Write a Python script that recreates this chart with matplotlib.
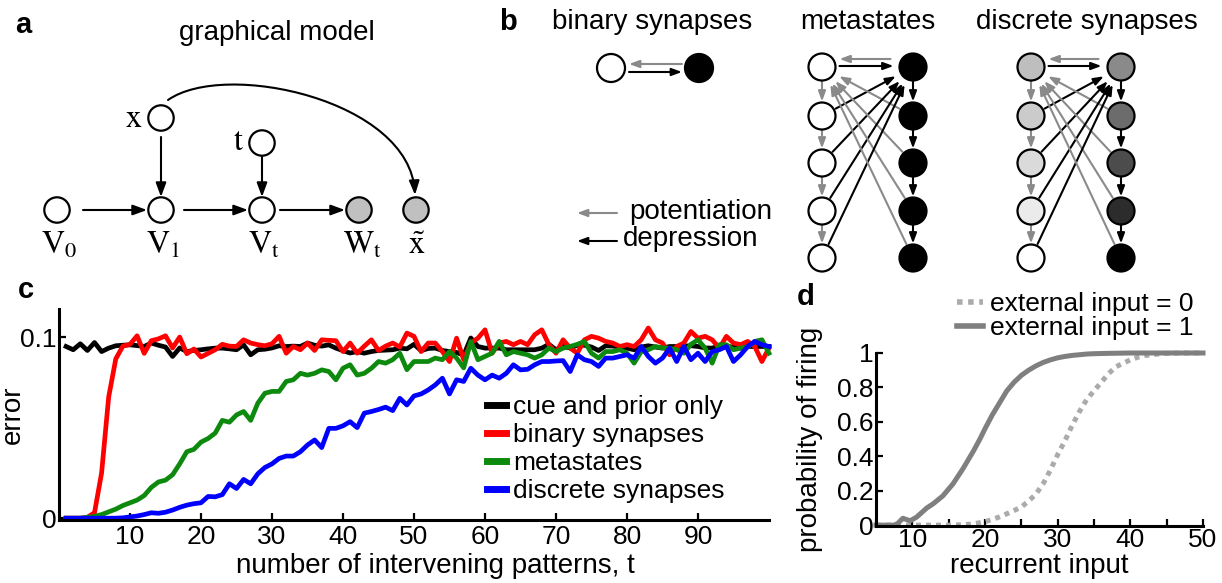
import math
import matplotlib
matplotlib.use('Agg')
import matplotlib.pyplot as plt
from matplotlib.patches import Circle, FancyArrowPatch
from matplotlib.path import Path

plt.rcParams['font.family'] = ['Liberation Sans', 'DejaVu Sans']
plt.rcParams['mathtext.fontset'] = 'stix'

# ---- panel c: error vs number of intervening patterns
t_patterns = list(range(1, 101))
cue_prior = [0.0948, 0.0930, 0.0963, 0.0926, 0.0970, 0.0920, 0.0939, 0.0952, 0.0955, 0.0957,
             0.0953, 0.0948, 0.0967, 0.0955, 0.0945, 0.0893, 0.0940, 0.0920, 0.0926, 0.0930,
             0.0935, 0.0939, 0.0939, 0.0935, 0.0930, 0.0957, 0.0902, 0.0930, 0.0933, 0.0940,
             0.0952, 0.0948, 0.0950, 0.0948, 0.0967, 0.0955, 0.0950, 0.0957, 0.0939, 0.0925,
             0.0912, 0.0920, 0.0911, 0.0920, 0.0926, 0.0928, 0.0930, 0.0939, 0.0935, 0.0960,
             0.0925, 0.0937, 0.0939, 0.0926, 0.0920, 0.0915, 0.0900, 0.0995, 0.0948, 0.0939,
             0.0939, 0.0939, 0.0930, 0.0930, 0.0930, 0.0930, 0.0930, 0.0939, 0.0960, 0.0930,
             0.0950, 0.0939, 0.0955, 0.0955, 0.0945, 0.0926, 0.0952, 0.0950, 0.0945, 0.0939,
             0.0930, 0.0945, 0.0952, 0.0945, 0.0939, 0.0948, 0.0948, 0.0950, 0.0952, 0.0948,
             0.0940, 0.0939, 0.0952, 0.0948, 0.0945, 0.0939, 0.0948, 0.0948, 0.0948, 0.0948]
binary = [0.0, 0.0, 0.0, 0.0005, 0.003, 0.025, 0.067, 0.088, 0.095, 0.096,
          0.1007, 0.091, 0.098, 0.099, 0.1007, 0.094, 0.100, 0.0908, 0.0934, 0.089,
          0.091, 0.093, 0.096, 0.095, 0.0948, 0.0985, 0.0967, 0.0958, 0.0952, 0.0963,
          0.1004, 0.0911, 0.0948, 0.093, 0.0967, 0.0926, 0.0985, 0.0982, 0.098, 0.092,
          0.0967, 0.0911, 0.095, 0.0985, 0.0926, 0.095, 0.0967, 0.0945, 0.1022, 0.1004,
          0.092, 0.0967, 0.0967, 0.092, 0.0865, 0.0994, 0.0875, 0.0967, 0.0994, 0.104,
          0.0911, 0.0967, 0.0976, 0.0958, 0.0976, 0.0958, 0.1013, 0.104, 0.0958, 0.0911,
          0.0985, 0.0939, 0.0911, 0.0985, 0.1004, 0.0994, 0.0976, 0.0967, 0.0948, 0.0958,
          0.0948, 0.0985, 0.105, 0.0985, 0.0967, 0.0902, 0.0948, 0.0967, 0.1031, 0.0994,
          0.1004, 0.0985, 0.0939, 0.1004, 0.0967, 0.0958, 0.0976, 0.0948, 0.0865, 0.094]
metastates = [0.0, 0.0, 0.0, 0.0005, 0.001, 0.002, 0.0035, 0.005, 0.007, 0.0085,
              0.010, 0.0125, 0.017, 0.020, 0.021, 0.024, 0.030, 0.0367, 0.038, 0.042,
              0.044, 0.047, 0.054, 0.053, 0.057, 0.0589, 0.054, 0.0635, 0.069, 0.070,
              0.070, 0.0755, 0.0764, 0.080, 0.079, 0.080, 0.0819, 0.081, 0.0764, 0.0828,
              0.0847, 0.079, 0.080, 0.0828, 0.0865, 0.0856, 0.0875, 0.0911, 0.082, 0.0865,
              0.0865, 0.0865, 0.0884, 0.0875, 0.0920, 0.0884, 0.0830, 0.0976, 0.0875, 0.0893,
              0.0911, 0.0976, 0.0902, 0.0920, 0.0911, 0.0902, 0.0884, 0.0902, 0.0939, 0.0920,
              0.0939, 0.0948, 0.0960, 0.0976, 0.0911, 0.0884, 0.0920, 0.0920, 0.0930, 0.0911,
              0.0856, 0.0920, 0.0930, 0.0948, 0.0940, 0.0939, 0.0930, 0.0911, 0.0960, 0.0985,
              0.0939, 0.0856, 0.0958, 0.0958, 0.0930, 0.0939, 0.0945, 0.0976, 0.0985, 0.0911]
discrete = [0, 0, 0, 0, 0, 0, 0, 0, 0.0002, 0.0007,
            0.0012, 0.002, 0.003, 0.0027, 0.0033, 0.0045, 0.006, 0.0072, 0.008, 0.0085,
            0.012, 0.0118, 0.013, 0.019, 0.0164, 0.0214, 0.019, 0.0245, 0.028, 0.030,
            0.033, 0.0343, 0.0343, 0.0367, 0.0404, 0.0432, 0.039, 0.0496, 0.0496, 0.051,
            0.0533, 0.050, 0.058, 0.0589, 0.060, 0.0613, 0.0594, 0.0662, 0.0625, 0.0675,
            0.0686, 0.0708, 0.0736, 0.0773, 0.0686, 0.0764, 0.0755, 0.0828, 0.079, 0.0764,
            0.079, 0.0773, 0.080, 0.0847, 0.0819, 0.0822, 0.0847, 0.0865, 0.0865, 0.0868,
            0.087, 0.081, 0.0902, 0.0875, 0.0865, 0.0838, 0.0884, 0.0884, 0.0893, 0.0902,
            0.0884, 0.0948, 0.0893, 0.0856, 0.0884, 0.0939, 0.0865, 0.0948, 0.0875, 0.0911,
            0.0865, 0.0920, 0.0930, 0.0948, 0.0865, 0.0902, 0.0948, 0.0976, 0.0958, 0.0948]
c_labels = ['cue and prior only', 'binary synapses', 'metastates', 'discrete synapses']
c_colors = ['black', 'red', '#0d8a0d', 'blue']

# ---- panel d: probability of firing vs recurrent input
rec_x0 = [5, 10, 15, 17, 18, 19, 20, 21, 22, 23, 24, 25, 26, 27, 28, 29, 30, 31, 32,
          33, 34, 35, 36, 37, 38, 39, 40, 41, 42, 43, 44, 45, 47, 50]
ext0 = [0, 0, 0, 0.002, 0.006, 0.012, 0.02, 0.033, 0.048, 0.066, 0.085, 0.105, 0.14, 0.18,
        0.24, 0.32, 0.41, 0.49, 0.58, 0.66, 0.73, 0.78, 0.83, 0.88, 0.92, 0.94, 0.96,
        0.975, 0.985, 0.99, 0.995, 0.998, 1.0, 1.0]
rec_x1 = [5, 6, 7, 7.5, 8, 8.7, 9.7, 10.6, 12, 12.9, 14.2, 15.6, 17, 18.4, 19.3, 20, 21,
          22, 23, 24, 25, 26, 27, 28, 29, 30, 31, 32, 33, 34, 35, 37, 40, 45, 50]
ext1 = [0, 0, 0, 0, 0.01, 0.04, 0.025, 0.047, 0.10, 0.125, 0.17, 0.24, 0.33, 0.43, 0.5,
        0.56, 0.64, 0.71, 0.78, 0.83, 0.87, 0.9, 0.925, 0.945, 0.96, 0.972, 0.98, 0.986,
        0.99, 0.994, 0.996, 0.998, 1.0, 1.0, 1.0]

GRAY = '#8a8a8a'
disc_left_fill = ['#bebebe', '#cbcbcb', '#dadada', '#ebebeb', '#ffffff']
disc_right_fill = ['#8a8a8a', '#6c6c6c', '#4c4c4c', '#2c2c2c', '#000000']

fig = plt.figure(figsize=(12.22, 5.83), dpi=100)

# background axes in pixel units for the diagrams (a, b)
bg = fig.add_axes([0, 0, 1, 1])
bg.set_xlim(0, 1222)
bg.set_ylim(583, 0)
bg.axis('off')


def node(x, y, fc='white', r=13):
    bg.add_patch(Circle((x, y), r, fc=fc, ec='black', lw=1.6, zorder=3))


def arrow(p0, p1, color='black', ms=10, hl=0.6, hw=0.22, lw=1.5):
    bg.add_patch(FancyArrowPatch(p0, p1, arrowstyle=f'-|>,head_length={hl},head_width={hw}',
                                 mutation_scale=ms, color=color, lw=lw,
                                 shrinkA=0, shrinkB=0, zorder=2))


def edge_arrow(c0, c1, r, color, gap0=2, gap1=6):
    dx, dy = c1[0] - c0[0], c1[1] - c0[1]
    d = math.hypot(dx, dy)
    ux, uy = dx / d, dy / d
    p0 = (c0[0] + ux * (r + gap0), c0[1] + uy * (r + gap0))
    p1 = (c1[0] - ux * (r + gap1), c1[1] - uy * (r + gap1))
    arrow(p0, p1, color)


# panel labels
for lab, x, y in [('a', 23, 25), ('b', 508, 22), ('c', 26, 290), ('d', 806, 297)]:
    bg.text(x, y, lab, fontsize=21, fontweight='bold', ha='center', va='center')

# ---- panel a: graphical model
bg.text(277, 33, 'graphical model', fontsize=20, ha='center', va='center')
ra = 12.7
row = 210
for xx in [57, 161, 262]:
    node(xx, row, 'white', ra)
node(359, row, '#c0c0c0', ra)
node(416, row, '#c0c0c0', ra)
node(161, 118, 'white', ra)
node(262, 143, 'white', ra)
ams = 14
arrow((83, row), (147, row), ms=ams)
arrow((184, row), (248, row), ms=ams)
arrow((280, row), (345, row), ms=ams)
arrow((161, 137), (161, 197), ms=ams)
arrow((262, 157), (262, 197), ms=ams)
curve = Path([(168, 100), (225, 60), (410, 100), (415, 195)],
             [Path.MOVETO, Path.CURVE4, Path.CURVE4, Path.CURVE4])
bg.add_patch(FancyArrowPatch(path=curve, arrowstyle='-|>,head_length=0.6,head_width=0.22',
                             mutation_scale=ams, color='black', lw=1.5, zorder=2))
serif = dict(fontsize=23, ha='center', va='center')
bg.text(134, 119, r'$\mathrm{x}$', **serif)
bg.text(238, 142, r'$\mathrm{t}$', **serif)
bg.text(59, 246, r'$\mathrm{V}_0$', **serif)
bg.text(163, 246, r'$\mathrm{V}_1$', **serif)
bg.text(264, 246, r'$\mathrm{V}_\mathrm{t}$', **serif)
bg.text(362, 246, r'$\mathrm{W}_\mathrm{t}$', **serif)
bg.text(417, 246, r'$\tilde{\mathrm{x}}$', **serif)

# ---- panel b: synapse models
bg.text(652, 22, 'binary synapses', fontsize=20, ha='center', va='center')
bg.text(868, 22, 'metastates', fontsize=20, ha='center', va='center')
bg.text(1087, 22, 'discrete synapses', fontsize=20, ha='center', va='center')

node(611, 68, 'white', 14)
node(699, 68, 'black', 14)
arrow((682, 64), (629, 64), GRAY)
arrow((629, 72), (682, 72), 'black')

row_y = [67, 116, 163, 211, 258]
rb = 13.5


def chain(xl, xr, fill_l, fill_r):
    for y, fl, fr in zip(row_y, fill_l, fill_r):
        node(xl, y, fl, rb)
        node(xr, y, fr, rb)
    arrow((xr - rb - 9, row_y[0] - 8), (xl + rb + 4, row_y[0] - 8), GRAY)
    arrow((xl + rb + 4, row_y[0] - 1), (xr - rb - 6, row_y[0] - 1), 'black')
    for y0, y1 in zip(row_y[:-1], row_y[1:]):
        arrow((xl, y0 + rb + 1), (xl, y1 - rb - 1), GRAY)
        arrow((xr, y0 + rb + 1), (xr, y1 - rb - 1), 'black')
    for y in row_y[1:]:
        edge_arrow((xl, y), (xr, row_y[0]), rb, 'black')
        edge_arrow((xr, y), (xl, row_y[0]), rb, GRAY)


chain(822, 913, ['white'] * 5, ['black'] * 5)
chain(1031, 1121, disc_left_fill, disc_right_fill)

arrow((617, 213), (577, 213), GRAY)
arrow((617, 241), (577, 241), 'black')
bg.text(629, 212, 'potentiation', fontsize=20, ha='left', va='center')
bg.text(623, 239, 'depression', fontsize=20, ha='left', va='center')

# ---- panel c
axc = fig.add_axes([59 / 1222, (583 - 520) / 583, 710 / 1222, 211 / 583])
for series, lab, col in zip([cue_prior, binary, metastates, discrete], c_labels, c_colors):
    axc.plot(t_patterns, series, color=col, lw=3.4, label=lab, clip_on=False)
axc.set_xlim(0, 100)
axc.set_ylim(-0.001, 0.1155)
axc.set_xticks([10, 20, 30, 40, 50, 60, 70, 80, 90])
axc.set_yticks([0, 0.1])
axc.set_yticklabels(['0', '0.1'])
axc.set_xlabel('number of intervening patterns, t', fontsize=20)
axc.set_ylabel('error', fontsize=20)
axc.xaxis.set_label_coords(0.53, -0.155)
axc.yaxis.set_label_coords(-0.046, 0.5)
legc = axc.legend(loc='upper left', bbox_to_anchor=(0.603, 0.592), frameon=False, fontsize=19,
                  handlelength=0.7, handletextpad=0.27, labelspacing=0.15,
                  borderpad=0, borderaxespad=0)
for h in legc.legend_handles:
    h.set_linewidth(5)

# ---- panel d
axd = fig.add_axes([876 / 1222, (583 - 526) / 583, 327 / 1222, 173 / 583])
axd.plot(rec_x0, ext0, color='#ababab', lw=3.6, ls=(0, (1, 1)), dash_capstyle='butt',
         label='external input = 0', clip_on=False)
axd.plot(rec_x1, ext1, color='#7f7f7f', lw=3.6, label='external input = 1', clip_on=False)
axd.set_xlim(5, 50)
axd.set_ylim(-0.005, 1.0)
axd.set_xticks([10, 20, 30, 40, 50])
axd.set_xticks([5, 15, 25, 35, 45], minor=True)
axd.set_yticks([0, 0.2, 0.4, 0.6, 0.8, 1.0])
axd.set_yticklabels(['0', '0.2', '0.4', '0.6', '0.8', '1'])
axd.set_xlabel('recurrent input', fontsize=20)
axd.set_ylabel('probability of firing', fontsize=20)
axd.xaxis.set_label_coords(0.5, -0.155)
axd.yaxis.set_label_coords(-0.162, 0.5)
legd = axd.legend(loc='upper left', bbox_to_anchor=(0.248, 1.353), frameon=False, fontsize=19,
                  handlelength=1.0, handletextpad=0.23, labelspacing=0.0,
                  borderpad=0, borderaxespad=0)
for h in legd.legend_handles:
    h.set_linewidth(4)

for ax in (axc, axd):
    ax.spines['top'].set_visible(False)
    ax.spines['right'].set_visible(False)
    ax.spines['left'].set_linewidth(2.2)
    ax.spines['bottom'].set_linewidth(2.2)
    ax.tick_params(which='both', direction='in', length=5, width=1.6, labelsize=19)
axc.tick_params(axis='x', pad=3.5)
axc.tick_params(axis='y', pad=2)
axd.tick_params(axis='x', pad=1.5)
axd.tick_params(axis='y', pad=2)

fig.savefig('out.png', dpi=100)
